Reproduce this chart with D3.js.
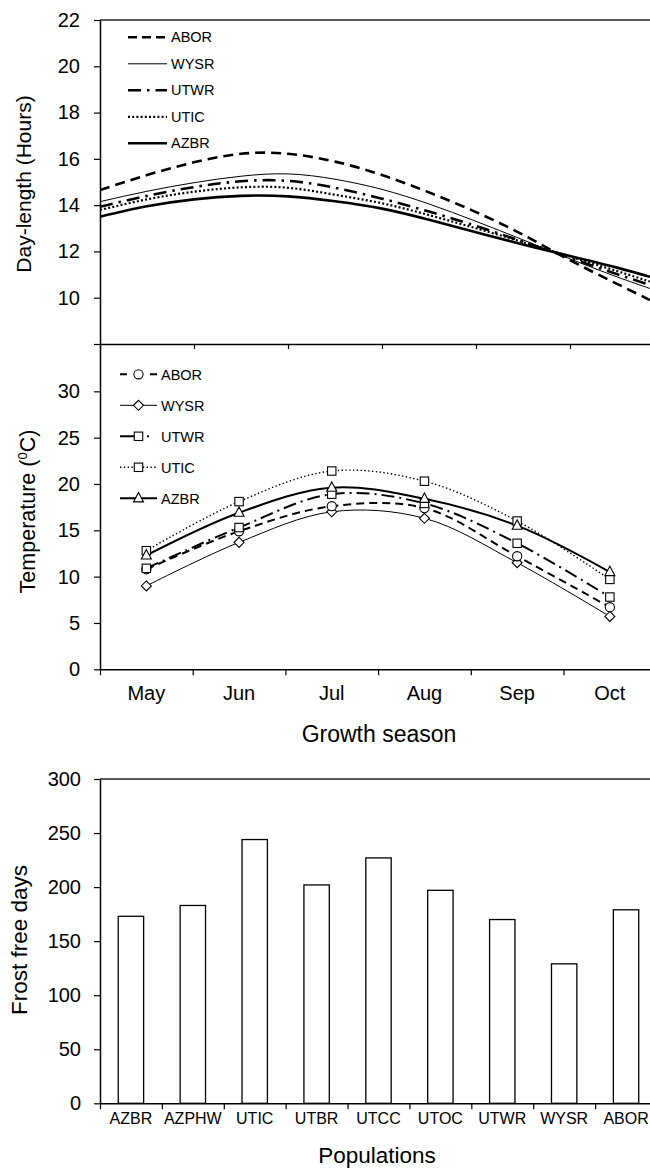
<!DOCTYPE html>
<html><head><meta charset="utf-8">
<script src="https://cdn.jsdelivr.net/npm/d3@7"></script>
<style>
body{margin:0;background:#fff}
svg{display:block;background:#fff}
text{font-family:"Liberation Sans",Arial,Helvetica,sans-serif;fill:#000}
</style>
</head><body>
<svg id="c" width="650" height="1170"></svg>
<script>
// ---------- DATA ----------
const seriesNames = ["ABOR","WYSR","UTWR","UTIC","AZBR"];

// Day-length panel (x in months from 1 May)
const dayX    = [0, 0.5, 1, 1.5, 2, 2.5, 3, 3.5, 4, 4.5, 5, 5.5, 5.85];
const dayABOR = [14.65, 15.3, 15.85, 16.22, 16.22, 15.88, 15.3, 14.55, 13.7, 12.72, 11.62, 10.6, 9.9];
const dayWYSR = [14.15, 14.6, 14.97, 15.25, 15.35, 15.12, 14.68, 14.05, 13.3, 12.5, 11.68, 10.9, 10.4];
const dayUTWR = [13.93, 14.4, 14.78, 15.03, 15.05, 14.75, 14.28, 13.72, 13.1, 12.42, 11.72, 11.02, 10.55];
const dayUTIC = [13.79, 14.25, 14.58, 14.77, 14.75, 14.45, 14.08, 13.57, 13.0, 12.4, 11.78, 11.15, 10.7];
const dayAZBR = [13.5, 13.95, 14.25, 14.4, 14.38, 14.17, 13.85, 13.37, 12.83, 12.3, 11.8, 11.3, 10.9];
const dayTicks = [8, 10, 12, 14, 16, 18, 20, 22];

// Temperature panel
const months   = ["May","Jun","Jul","Aug","Sep","Oct"];
const tempABOR = [10.8, 14.9, 17.6, 17.4, 12.2, 6.7];
const tempWYSR = [9.0, 13.7, 17.0, 16.3, 11.5, 5.7];
const tempUTWR = [10.9, 15.3, 18.9, 17.9, 13.6, 7.8];
const tempUTIC = [12.8, 18.1, 21.4, 20.3, 16.0, 9.7];
const tempAZBR = [12.3, 16.9, 19.6, 18.4, 15.5, 10.5];
const tempTicks = [0, 5, 10, 15, 20, 25, 30];

// Frost free days panel
const populations   = ["AZBR","AZPHW","UTIC","UTBR","UTCC","UTOC","UTWR","WYSR","ABOR"];
const frostFreeDays = [173, 183, 244, 202, 227, 197, 170, 129, 179];
const frostTicks    = [0, 50, 100, 150, 200, 250, 300];

// ---------- STYLES ----------
const dayStyle = {
  ABOR:{w:2.6, dash:"10 6"},
  WYSR:{w:1.0, dash:null},
  UTWR:{w:2.6, dash:"13 6 2.5 6"},
  UTIC:{w:2.2, dash:"2 2.2"},
  AZBR:{w:2.6, dash:null}
};
const tempStyle = {
  ABOR:{w:2.0, dash:"8 5", m:"circle"},
  WYSR:{w:1.0, dash:null, m:"diamond"},
  UTWR:{w:2.0, dash:"13 5 2 5", m:"square"},
  UTIC:{w:1.4, dash:"1.4 2.4", m:"square"},
  AZBR:{w:2.0, dash:null, m:"triangle"}
};

const svg = d3.select("#c");
const FONT = '"Liberation Sans",Arial,Helvetica,sans-serif';

function styleAxis(g, fs){
  g.select(".domain").attr("stroke","#000").attr("stroke-width",1.5);
  g.selectAll(".tick line").attr("stroke","#000").attr("stroke-width",1.2);
  g.selectAll(".tick text").attr("font-size",fs).attr("font-family",FONT).attr("fill","#000");
}

// ---------- PANEL 1: Day-length ----------
const xDay = d3.scaleLinear().domain([0,6]).range([100,664]);
const yDay = d3.scaleLinear().domain([8,22]).range([344,20]);

svg.append("defs").append("clipPath").attr("id","clipTop")
  .append("rect").attr("x",100).attr("y",20).attr("width",550).attr("height",324);

const dayData = {ABOR:dayABOR, WYSR:dayWYSR, UTWR:dayUTWR, UTIC:dayUTIC, AZBR:dayAZBR};
const dayLine = d3.line().x((d,i)=>xDay(dayX[i])).y(d=>yDay(d)).curve(d3.curveNatural);
const gTop = svg.append("g").attr("clip-path","url(#clipTop)");
seriesNames.forEach(n=>{
  gTop.append("path").datum(dayData[n]).attr("d",dayLine)
    .attr("fill","none").attr("stroke","#000")
    .attr("stroke-width",dayStyle[n].w)
    .attr("stroke-dasharray",dayStyle[n].dash);
});

// top border
svg.append("line").attr("x1",100).attr("x2",650).attr("y1",yDay(22)).attr("y2",yDay(22))
  .attr("stroke","#222").attr("stroke-width",1.3);

const gyDay = svg.append("g").attr("transform","translate(100,0)")
  .call(d3.axisLeft(yDay).tickValues(dayTicks).tickFormat(d=>d===8?"":d)
    .tickSize(6).tickPadding(14).tickSizeOuter(0));
styleAxis(gyDay, 20);
const gxDay = svg.append("g").attr("transform",`translate(0,${yDay(8)})`)
  .call(d3.axisBottom(xDay).tickValues([0,1,2,3,4,5]).tickFormat("").tickSize(5).tickSizeOuter(0));
styleAxis(gxDay, 20);

svg.append("text").attr("transform","translate(31,184) rotate(-90)")
  .attr("text-anchor","middle").attr("font-size",21).text("Day-length (Hours)");

// legend top
const legTopY = d3.scaleLinear().domain([0,4]).range([37.3,143.3]);
seriesNames.forEach((n,i)=>{
  const y = legTopY(i);
  svg.append("line").attr("x1",128).attr("x2",167).attr("y1",y).attr("y2",y)
    .attr("stroke","#000").attr("stroke-width",dayStyle[n].w)
    .attr("stroke-dasharray", n==="ABOR" ? "9 5" : dayStyle[n].dash);
  svg.append("text").attr("x",171).attr("y",y+5).attr("font-size",14.5).text(n);
});

// ---------- PANEL 2: Temperature ----------
const xMon = d3.scaleBand().domain(months).range([100,656.2]);
const xMonT = d3.scaleLinear().domain([0,6]).range([100,656.2]);
const yT = d3.scaleLinear().domain([0,35]).range([669.3,345]);

const tempData = {ABOR:tempABOR, WYSR:tempWYSR, UTWR:tempUTWR, UTIC:tempUTIC, AZBR:tempAZBR};
const tLine = d3.line().x((d,i)=>xMon(months[i])+xMon.bandwidth()/2).y(d=>yT(d))
  .curve(d3.curveCatmullRom.alpha(0.5));

const drawOrder = ["WYSR","ABOR","UTWR","UTIC","AZBR"];
drawOrder.forEach(n=>{
  svg.append("path").datum(tempData[n]).attr("d",tLine)
    .attr("fill","none").attr("stroke","#000")
    .attr("stroke-width",tempStyle[n].w)
    .attr("stroke-dasharray",tempStyle[n].dash);
});

function marker(g, type, x, y){
  let el;
  if(type==="circle") el = g.append("circle").attr("cx",x).attr("cy",y).attr("r",4.6);
  else if(type==="square") el = g.append("rect").attr("x",x-4.2).attr("y",y-4.2).attr("width",8.4).attr("height",8.4);
  else if(type==="diamond") el = g.append("path").attr("d",`M${x},${y-5}L${x+5},${y}L${x},${y+5}L${x-5},${y}Z`);
  else el = g.append("path").attr("d",`M${x},${y-5.8}L${x+5},${y+3.6}L${x-5},${y+3.6}Z`);
  el.attr("fill","#fff").attr("stroke","#000").attr("stroke-width",1.1);
}
drawOrder.forEach(n=>{
  tempData[n].forEach((v,i)=>{
    marker(svg, tempStyle[n].m, xMon(months[i])+xMon.bandwidth()/2, yT(v));
  });
});

const gyT = svg.append("g").attr("transform","translate(100,0)")
  .call(d3.axisLeft(yT).tickValues(tempTicks).tickSize(6).tickPadding(14).tickSizeOuter(0));
styleAxis(gyT, 20);
const gxT = svg.append("g").attr("transform",`translate(0,${yT(0)})`)
  .call(d3.axisBottom(xMonT).tickValues([0,1,2,3,4,5]).tickFormat("").tickSize(6).tickSizeOuter(0));
styleAxis(gxT, 20);

svg.selectAll(".monthLbl").data(months).enter().append("text")
  .attr("x",d=>xMon(d)+xMon.bandwidth()/2).attr("y",700)
  .attr("text-anchor","middle").attr("font-size",20).text(d=>d);

svg.append("text").attr("x",379).attr("y",742).attr("text-anchor","middle")
  .attr("font-size",23).text("Growth season");

const tTitle = svg.append("text").attr("transform","translate(35,511.5) rotate(-90)")
  .attr("text-anchor","middle").attr("font-size",21.5);
tTitle.append("tspan").text("Temperature (");
tTitle.append("tspan").attr("font-size",13).attr("dy",-8).text("0");
tTitle.append("tspan").attr("dy",8).text("C)");

// legend middle
const legMidY = d3.scaleLinear().domain([0,4]).range([374.3,498.3]);
seriesNames.forEach((n,i)=>{
  const y = legMidY(i);
  svg.append("line").attr("x1",120).attr("x2",157).attr("y1",y).attr("y2",y)
    .attr("stroke","#000").attr("stroke-width",tempStyle[n].w)
    .attr("stroke-dasharray", n==="ABOR" ? "7 23 7" : (n==="UTWR" ? "14 13 2 10" : tempStyle[n].dash));
  marker(svg, tempStyle[n].m, 138.5, y);
  svg.append("text").attr("x",161).attr("y",y+5.5).attr("font-size",14.5).text(n);
});

// ---------- PANEL 3: Frost free days ----------
const xB = d3.scaleBand().domain(populations).range([100,657]).paddingInner(0.59).paddingOuter(0.295);
const xBT = d3.scaleLinear().domain([0,9]).range([100,657]);
const yB = d3.scaleLinear().domain([0,300]).range([1103.3,779]);

svg.append("line").attr("x1",100).attr("x2",650).attr("y1",yB(300)).attr("y2",yB(300))
  .attr("stroke","#222").attr("stroke-width",1.3);

svg.selectAll(".bar").data(populations).enter().append("rect")
  .attr("x",d=>xB(d)).attr("width",xB.bandwidth())
  .attr("y",(d,i)=>yB(frostFreeDays[i])).attr("height",(d,i)=>yB(0)-yB(frostFreeDays[i]))
  .attr("fill","#fff").attr("stroke","#000").attr("stroke-width",1.3);

const gyB = svg.append("g").attr("transform","translate(100,0)")
  .call(d3.axisLeft(yB).tickValues(frostTicks).tickSize(6).tickPadding(13).tickSizeOuter(0));
styleAxis(gyB, 20);
const gxB = svg.append("g").attr("transform",`translate(0,${yB(0)})`)
  .call(d3.axisBottom(xBT).tickValues(d3.range(0,9)).tickFormat("").tickSize(6).tickSizeOuter(0));
styleAxis(gxB, 20);

svg.selectAll(".popLbl").data(populations).enter().append("text")
  .attr("x",d=>xB(d)+xB.bandwidth()/2).attr("y",1124)
  .attr("text-anchor","middle").attr("font-size",16).text(d=>d);

svg.append("text").attr("x",377).attr("y",1163).attr("text-anchor","middle")
  .attr("font-size",22.5).text("Populations");

svg.append("text").attr("transform","translate(27,940) rotate(-90)")
  .attr("text-anchor","middle").attr("font-size",22.5).text("Frost free days");
</script>
</body></html>
